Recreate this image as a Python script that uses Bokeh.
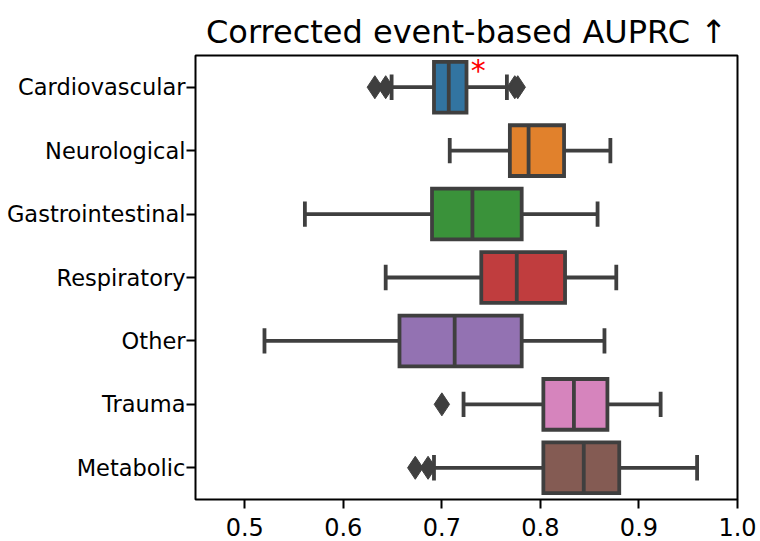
import numpy as np
from bokeh.plotting import figure
from bokeh.models import Range1d, FixedTicker, PrintfTickFormatter, ColumnDataSource
from bokeh.core.properties import value
from bokeh.embed import file_html
from bokeh.resources import INLINE

# ---- data ----
categories = ["Cardiovascular", "Neurological", "Gastrointestinal", "Respiratory",
              "Other", "Trauma", "Metabolic"]
q1 = [0.692, 0.769, 0.690, 0.740, 0.657, 0.803, 0.803]
median = [0.707, 0.788, 0.731, 0.776, 0.713, 0.834, 0.844]
q3 = [0.725, 0.824, 0.781, 0.825, 0.781, 0.868, 0.880]
whisker_low = [0.649, 0.708, 0.561, 0.643, 0.520, 0.722, 0.692]
whisker_high = [0.766, 0.871, 0.858, 0.877, 0.865, 0.922, 0.959]
outlier_category = ["Cardiovascular", "Cardiovascular", "Cardiovascular", "Cardiovascular",
                    "Trauma", "Metabolic", "Metabolic"]
outlier_value = [0.632, 0.643, 0.774, 0.777, 0.700, 0.673, 0.686]
box_colors = ["#3274a1", "#e1812c", "#3a923a", "#c03d3e", "#9372b2", "#d684bd", "#845b53"]
sig_category = ["Cardiovascular"]
sig_value = [0.737]
x_ticks = [0.5, 0.6, 0.7, 0.8, 0.9, 1.0]
title_text = "Corrected event-based AUPRC \u2191"

FONT = "DejaVu Sans"
EDGE = "#3f3f3f"
LW = 3.8

pos = {c: i for i, c in enumerate(categories)}
y = np.array([pos[c] for c in categories], dtype=float)

p = figure(width=758, height=540, x_range=Range1d(0.45, 1.0), y_range=Range1d(6.5, -0.5),
           output_backend="svg", toolbar_location=None,
           min_border_left=195, min_border_right=21, min_border_top=55, min_border_bottom=41)

p.title.text = title_text
p.title.align = "center"
p.title.text_font = FONT
p.title.text_font_size = "32px"
p.title.text_font_style = "normal"
p.title.text_color = "black"

p.grid.visible = False
p.outline_line_color = "black"
p.outline_line_width = 2

for ax in (p.xaxis[0], p.yaxis[0]):
    ax.axis_line_color = None
    ax.major_tick_line_color = "black"
    ax.major_tick_line_width = 2
    ax.major_tick_out = 9
    ax.major_tick_in = 0
    ax.minor_tick_line_color = None
    ax.major_label_text_font = FONT
    ax.major_label_text_color = "black"

p.xaxis.ticker = FixedTicker(ticks=x_ticks)
p.xaxis.formatter = PrintfTickFormatter(format="%.1f")
p.xaxis.major_label_text_font_size = "24px"
p.xaxis.major_label_standoff = 9

p.yaxis.ticker = FixedTicker(ticks=list(range(len(categories))))
p.yaxis.major_label_overrides = {i: c for i, c in enumerate(categories)}
p.yaxis.major_label_text_font_size = "22.5px"
p.yaxis.major_label_standoff = 1

src = ColumnDataSource(dict(
    y=y, q1=q1, q3=q3, med=median, lo=whisker_low, hi=whisker_high, color=box_colors,
    cap_y0=y - 0.2, cap_y1=y + 0.2, box_y0=y - 0.4, box_y1=y + 0.4,
))

# whiskers
p.segment(x0="lo", y0="y", x1="q1", y1="y", source=src, line_color=EDGE, line_width=LW)
p.segment(x0="q3", y0="y", x1="hi", y1="y", source=src, line_color=EDGE, line_width=LW)
# caps
p.segment(x0="lo", y0="cap_y0", x1="lo", y1="cap_y1", source=src, line_color=EDGE, line_width=LW)
p.segment(x0="hi", y0="cap_y0", x1="hi", y1="cap_y1", source=src, line_color=EDGE, line_width=LW)
# boxes
p.hbar(y="y", left="q1", right="q3", height=0.8, source=src, fill_color="color",
       line_color=EDGE, line_width=LW, line_join="miter")
# medians
p.segment(x0="med", y0="box_y0", x1="med", y1="box_y1", source=src, line_color=EDGE, line_width=LW)

# outliers
p.scatter(x=outlier_value, y=[pos[c] for c in outlier_category], marker="diamond",
          size=23, fill_color=EDGE, line_color=EDGE, line_width=1)

# significance star
p.text(x=sig_value, y=[pos[c] - 0.27 for c in sig_category], text=["*"],
       text_color="red", text_font=value(FONT), text_font_size="30px",
       text_align="center", text_baseline="alphabetic")

open("out.html", "w").write(file_html(p, INLINE))
